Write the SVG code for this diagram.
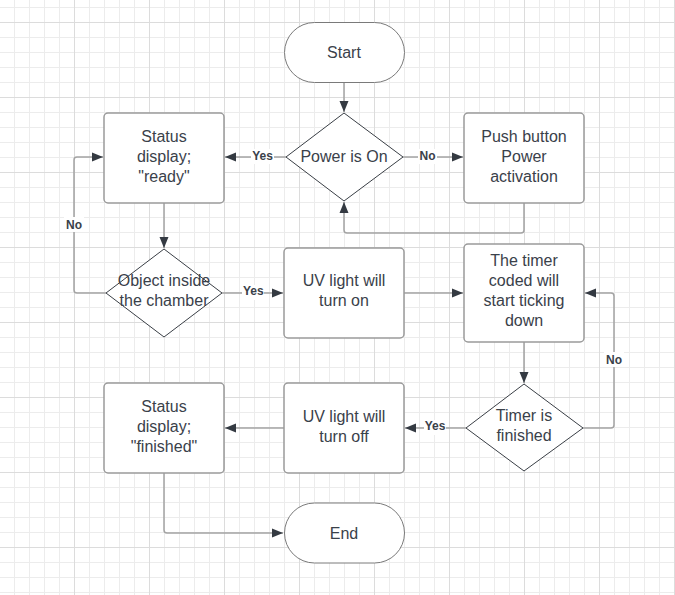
<svg xmlns="http://www.w3.org/2000/svg" width="675" height="595" viewBox="0 0 675 595">
<style>
.box{fill:#fff;stroke:#9a9a9a;stroke-width:1.5}
.dia{fill:#fff;stroke:#3a3f46;stroke-width:1}
.t{font-family:"Liberation Sans",Arial,sans-serif;font-size:16px;fill:#3a414a;text-anchor:middle}
.lb{font-family:"Liberation Sans",Arial,sans-serif;font-size:12px;font-weight:bold;fill:#3a414a;text-anchor:middle}
.c{fill:none;stroke:#a3a3a3;stroke-width:1.5;marker-end:url(#ah)}
.cn{fill:none;stroke:#a3a3a3;stroke-width:1.5}
.lbg{fill:#fff}
</style>
<defs>
<pattern id="g1" x="14" y="7" width="15" height="15" patternUnits="userSpaceOnUse">
<path d="M0 0.5H15M0.5 0V15" stroke="#ececec" stroke-width="1" fill="none"/>
</pattern>
<pattern id="g2" x="-1" y="22" width="75" height="75" patternUnits="userSpaceOnUse">
<path d="M0 0.5H75M0.5 0V75" stroke="#dcdcdc" stroke-width="1" fill="none"/>
</pattern>
<marker id="ah" markerUnits="userSpaceOnUse" markerWidth="12" markerHeight="10" viewBox="0 0 12 10" refX="11" refY="5" orient="auto">
<path d="M0 0.5L11 5L0 9.5z" fill="#343a42"/>
</marker>
</defs>
<rect width="675" height="595" fill="#fff"/>
<rect width="675" height="595" fill="url(#g1)"/>
<rect width="675" height="595" fill="url(#g2)"/>

<g id="connectors">
<path class="c" d="M344 83V112"/>
<path class="cn" d="M286 157H274"/>
<path class="c" d="M251 157H225"/>
<rect class="lbg" x="251" y="149" width="23" height="15"/>
<text class="lb" x="262.5" y="160">Yes</text>
<path class="cn" d="M403 157H418"/>
<path class="c" d="M437 157H463"/>
<rect class="lbg" x="418" y="149" width="19" height="15"/>
<text class="lb" x="427.5" y="160">No</text>
<path class="c" d="M524 203V230Q524 233 521 233H347Q344 233 344 230V202"/>
<path class="c" d="M164 203V248"/>
<path class="c" d="M106 293H77Q74 293 74 290V160Q74 157 77 157H103"/>
<rect class="lbg" x="64" y="217" width="20" height="15"/>
<text class="lb" x="74" y="229">No</text>
<path class="cn" d="M222 293H242"/>
<path class="c" d="M264 293H283"/>
<rect class="lbg" x="242" y="285" width="22" height="15"/>
<text class="lb" x="253.3" y="295">Yes</text>
<path class="c" d="M404 293H463"/>
<path class="c" d="M524 342V383"/>
<path class="c" d="M583 428H611Q614 428 614 425V296Q614 293 611 293H585"/>
<rect class="lbg" x="604" y="352" width="20" height="15"/>
<text class="lb" x="614" y="364">No</text>
<path class="cn" d="M466 428H446"/>
<path class="c" d="M424 428H405"/>
<rect class="lbg" x="424" y="420" width="22" height="15"/>
<text class="lb" x="435" y="429.5">Yes</text>
<path class="c" d="M284 428H225"/>
<path class="c" d="M164 473V530Q164 533 167 533H283"/>
</g>

<g id="start">
<rect class="box" x="284.5" y="22.5" width="120" height="60" rx="30" ry="30" style="stroke:#7a7a7a;stroke-width:1"/>
<text class="t" x="344" y="57.5">Start</text>
</g>
<g id="power">
<path class="dia" d="M344 113L403 157L344 201L286 157Z"/>
<text class="t" x="344" y="161.5">Power is On</text>
</g>
<g id="push">
<rect class="box" x="464" y="113" width="120" height="90" rx="4"/>
<text class="t" x="524" y="142">Push button</text>
<text class="t" x="524" y="162">Power</text>
<text class="t" x="524" y="182">activation</text>
</g>
<g id="ready">
<rect class="box" x="104" y="113" width="120" height="90" rx="4"/>
<text class="t" x="164" y="142">Status</text>
<text class="t" x="164" y="162">display;</text>
<text class="t" x="164" y="182">"ready"</text>
</g>
<g id="object">
<path class="dia" d="M164 249L222 293L164 337L106 293Z"/>
<text class="t" x="164" y="286">Object inside</text>
<text class="t" x="164" y="306">the chamber</text>
</g>
<g id="uvon">
<rect class="box" x="284" y="248" width="120" height="90" rx="4"/>
<text class="t" x="344" y="286">UV light will</text>
<text class="t" x="344" y="306">turn on</text>
</g>
<g id="timer">
<rect class="box" x="464" y="244" width="120" height="98" rx="4"/>
<text class="t" x="524" y="266">The timer</text>
<text class="t" x="524" y="286">coded will</text>
<text class="t" x="524" y="306">start ticking</text>
<text class="t" x="524" y="326">down</text>
</g>
<g id="finished">
<path class="dia" d="M524 384L583 428L524 471L466 428Z"/>
<text class="t" x="524" y="421">Timer is</text>
<text class="t" x="524" y="441">finished</text>
</g>
<g id="uvoff">
<rect class="box" x="284" y="383" width="120" height="90" rx="4"/>
<text class="t" x="344" y="422">UV light will</text>
<text class="t" x="344" y="442">turn off</text>
</g>
<g id="statusfin">
<rect class="box" x="104" y="383" width="120" height="90" rx="4"/>
<text class="t" x="164" y="412">Status</text>
<text class="t" x="164" y="432">display;</text>
<text class="t" x="164" y="452">"finished"</text>
</g>
<g id="end">
<rect class="box" x="284.5" y="503" width="120" height="60" rx="30" ry="30" style="stroke:#7a7a7a;stroke-width:1"/>
<text class="t" x="344" y="538.5">End</text>
</g>
</svg>
